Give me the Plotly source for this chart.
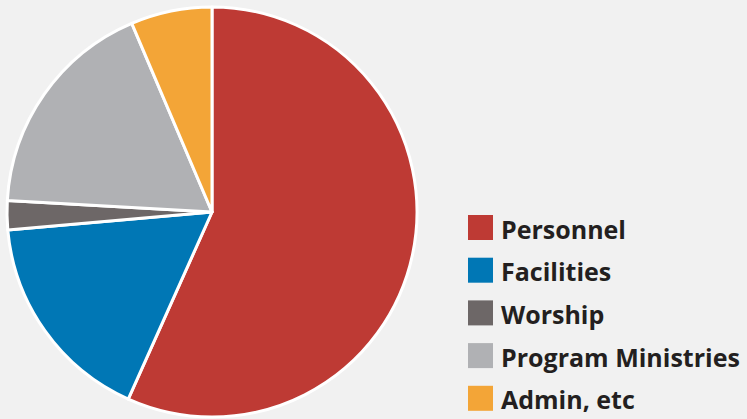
import plotly.graph_objects as go

categories = ["Personnel", "Facilities", "Worship", "Program Ministries", "Admin, etc"]
values = [56.7, 16.9, 2.3, 17.7, 6.4]
colors = ["#BE3A34", "#0077B5", "#6D6767", "#B0B1B4", "#F3A537"]

W, H = 747, 419
BG = "#F1F1F1"

fig = go.Figure()
fig.add_trace(go.Pie(
    labels=categories,
    values=values,
    sort=False,
    direction="clockwise",
    rotation=0,
    marker=dict(colors=colors, line=dict(color="white", width=3)),
    textinfo="none",
    hoverinfo="label+percent",
    showlegend=False,
    domain=dict(x=[7 / W, 417 / W], y=[1 - 417 / H, 1 - 7 / H]),
))

# custom legend (large square swatches)
sq = 25
x0 = 468
y_first = 227.5
step = 42.7
shapes = []
annotations = []
for i, (cat, col) in enumerate(zip(categories, colors)):
    yc = y_first + i * step
    shapes.append(dict(
        type="rect", xref="paper", yref="paper",
        x0=x0 / W, x1=(x0 + sq) / W,
        y0=1 - (yc + sq / 2) / H, y1=1 - (yc - sq / 2) / H,
        fillcolor=col, line=dict(width=0),
    ))
    annotations.append(dict(
        text=cat, xref="paper", yref="paper",
        x=499 / W, y=1 - (yc + 1) / H,
        xanchor="left", yanchor="middle", showarrow=False,
        font=dict(family="Open Sans", size=25, color="#231F20", weight="bold"),
    ))

fig.update_layout(
    width=W, height=H,
    margin=dict(l=0, r=0, t=0, b=0),
    paper_bgcolor=BG, plot_bgcolor=BG,
    shapes=shapes, annotations=annotations,
)

fig.write_html(
    "out.html",
    config={"displayModeBar": False},
    post_script="document.body.style.margin='0';document.body.style.overflow='hidden';",
)
